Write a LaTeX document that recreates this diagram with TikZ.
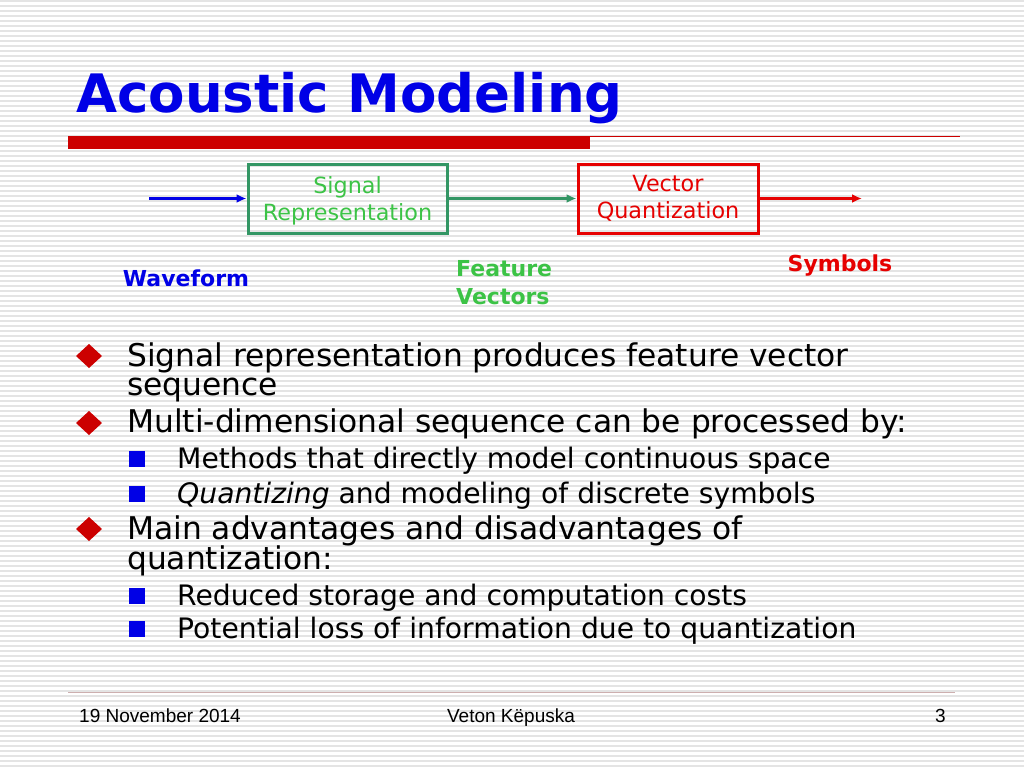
\documentclass[tikz,border=0pt]{standalone}
\usepackage{fontspec}
\setmainfont{DejaVu Sans}
\newfontfamily\footfont{Liberation Sans}
\usetikzlibrary{positioning,arrows.meta}
\definecolor{titleblue}{RGB}{0,0,230}
\definecolor{barred}{RGB}{204,0,0}
\definecolor{boxgreen}{RGB}{51,150,100}
\definecolor{textgreen}{RGB}{60,195,70}
\definecolor{boxred}{RGB}{230,0,0}
\definecolor{stripegray}{RGB}{228,228,228}
\definecolor{footline}{RGB}{205,175,175}

\begin{document}
\begin{tikzpicture}[x=1pt,y=-1pt,
  stagebox/.style={draw,line width=3pt,minimum width=199pt,minimum height=69pt,
    align=center,inner sep=0pt,font=\fontsize{22.3}{27}\selectfont},
  flow/.style={line width=3pt,-{Latex[length=10pt,width=9pt]}},
  lbl/.style={inner sep=0pt,font=\bfseries\fontsize{22}{28}\selectfont},
  maintxt/.style={anchor=base west,inner sep=0pt,font=\fontsize{31.3}{31}\selectfont},
  subtxt/.style={anchor=base west,inner sep=0pt,font=\fontsize{28.2}{28}\selectfont}]
\useasboundingbox (0,0) rectangle (1024,768);
% background stripes
\fill[white] (0,0) rectangle (1024,768);
\foreach \y in {0,5,...,765}
  \fill[stripegray] (0,\y) rectangle (1024,\y+2);

% title
\node[anchor=base west,inner sep=0pt,text=titleblue,font=\bfseries\fontsize{53}{53}\selectfont] (title) at (76,112) {Acoustic Modeling};
\fill[barred] (68,136) rectangle (590,149);
\draw[barred,line width=1pt] (590,136.5) -- (960,136.5);

% block diagram
\node[stagebox,draw=boxgreen,text=textgreen] (sigrep) at (347.5,198.5) {\rule{0pt}{22pt}Signal\\Representation};
\node[stagebox,draw=boxred,text=boxred,minimum width=180pt] (vq) at (668,198.5) {Vector\\Quantization};
\coordinate (wavein) at (149,198.5);
\coordinate (symout) at (862,198.5);
\draw[flow,titleblue] (wavein) -- (sigrep.west);
\draw[flow,boxgreen] (sigrep.east) -- (vq.west);
\draw[flow,boxred] (vq.east) -- (symout);
\node[lbl,text=titleblue,anchor=base] (wave) at (186,286) {Waveform};
\node[lbl,text=textgreen,align=left,anchor=north west] (feat) at (456,260) {Feature\\Vectors};
\node[lbl,text=boxred,anchor=base] (sym) at (840,271) {Symbols};

% bullets
\foreach \y in {356,423,529}
  \fill[barred] (76,\y) -- (89,\y-12) -- (102,\y) -- (89,\y+12) -- cycle;
\foreach \y in {459,494,596,629}
  \fill[titleblue] (129,\y-8) rectangle (145,\y+8);

\node[maintxt] (pa) at (127,366) {Signal representation produces feature vector};
\node[maintxt] (pb) at (127,395) {sequence};
\node[maintxt] (pc) at (127,432) {Multi-dimensional sequence can be processed by:};
\node[subtxt] (sa) at (177,468) {Methods that directly model continuous space};
\node[subtxt] (sb) at (177,503) {\itshape Quantizing\upshape{} and modeling of discrete symbols};
\node[maintxt] (pd) at (127,539) {Main advantages and disadvantages of};
\node[maintxt] (pe) at (127,569) {quantization:};
\node[subtxt] (sc) at (177,605) {Reduced storage and computation costs};
\node[subtxt] (sd) at (177,638) {Potential loss of information due to quantization};

% footer
\draw[footline,line width=1pt] (68,692) -- (955,692);
\node[anchor=base west,inner sep=0pt,font=\footfont\fontsize{19}{19}\selectfont] (date) at (79,722) {19 November 2014};
\node[anchor=base,inner sep=0pt,font=\footfont\fontsize{19}{19}\selectfont] (author) at (511,722) {Veton Këpuska};
\node[anchor=base east,inner sep=0pt,font=\footfont\fontsize{19}{19}\selectfont] (page) at (946,722) {3};
\end{tikzpicture}
\end{document}
